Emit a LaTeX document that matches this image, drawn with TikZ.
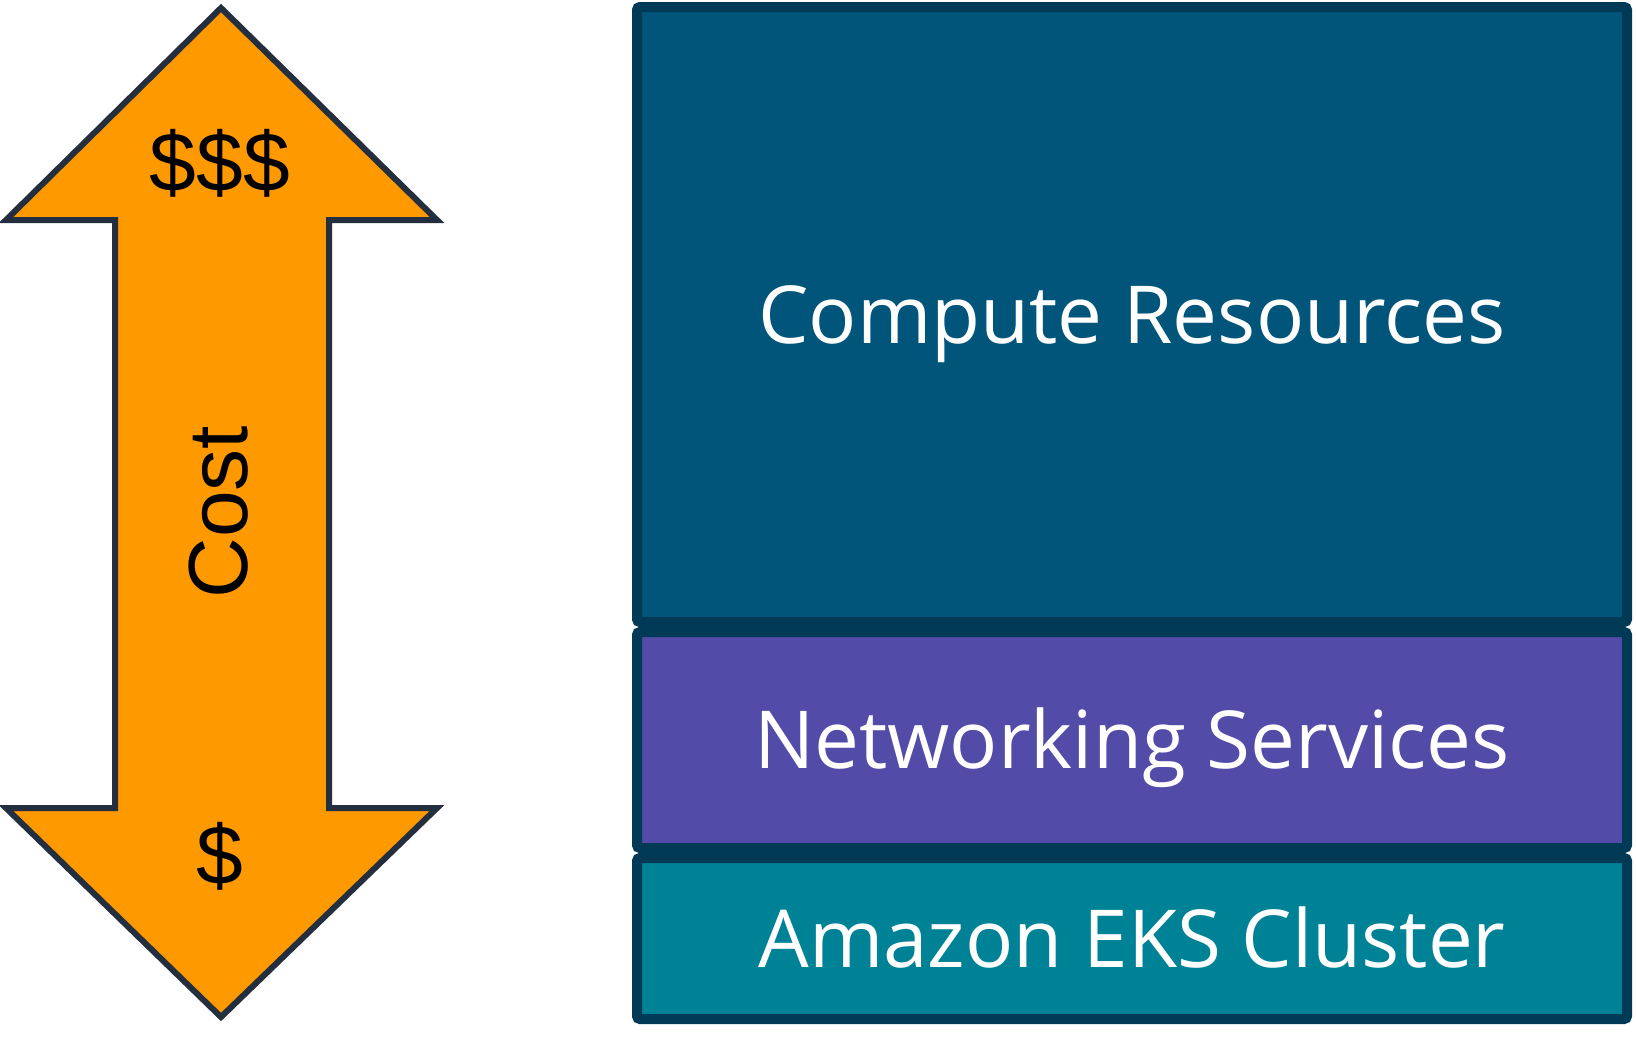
\documentclass[tikz,border=0pt]{standalone}
\usepackage{fontspec}
\setmainfont{Liberation Sans}
\newfontfamily\layerfont{Open Sans}
\usetikzlibrary{positioning}

\definecolor{costorange}{HTML}{FF9900}
\definecolor{costink}{HTML}{232F3E}
\definecolor{layerline}{HTML}{003A57}
\definecolor{computeblue}{HTML}{01547A}
\definecolor{networkpurple}{HTML}{524BA8}
\definecolor{clusterteal}{HTML}{008296}

\begin{document}
\begin{tikzpicture}[x=0.5pt, y=-0.5pt,
      layer/.style={rectangle, draw=layerline, line width=5pt, rounded corners=1.5pt,
        minimum width=495pt, text height=28.5pt, text depth=0pt, text=white,
        font=\layerfont\fontsize{40}{40}\selectfont},
      costlabel/.style={font=\fontsize{42}{42}\selectfont, text=black}]

      \useasboundingbox (0,0) rectangle (1636,1040);

      % Cost arrow
      \draw[fill=costorange, draw=costink, line width=3pt, miter limit=10]
        (221,8) -- (6,220) -- (115,220) -- (115,808) -- (6,808) -- (221,1017)
        -- (437,808) -- (329,808) -- (329,220) -- (437,220) -- cycle;

      \node[costlabel] (high) at (220,163) {\$\$\$};
      \node[costlabel] (low) at (220,856) {\$};
      \node[costlabel, rotate=90] (cost) at (219,512) {Cost};

      % Layers
      \node[layer, fill=computeblue, minimum height=307.5pt] (compute) at (1132,314.5) {Compute Resources};
      \node[layer, fill=networkpurple, minimum height=108pt] (network) at (1132,740) {Networking Services};
      \node[layer, fill=clusterteal, minimum height=80.5pt] (cluster) at (1132,938.5) {Amazon EKS Cluster};
    \end{tikzpicture}
\end{document}
